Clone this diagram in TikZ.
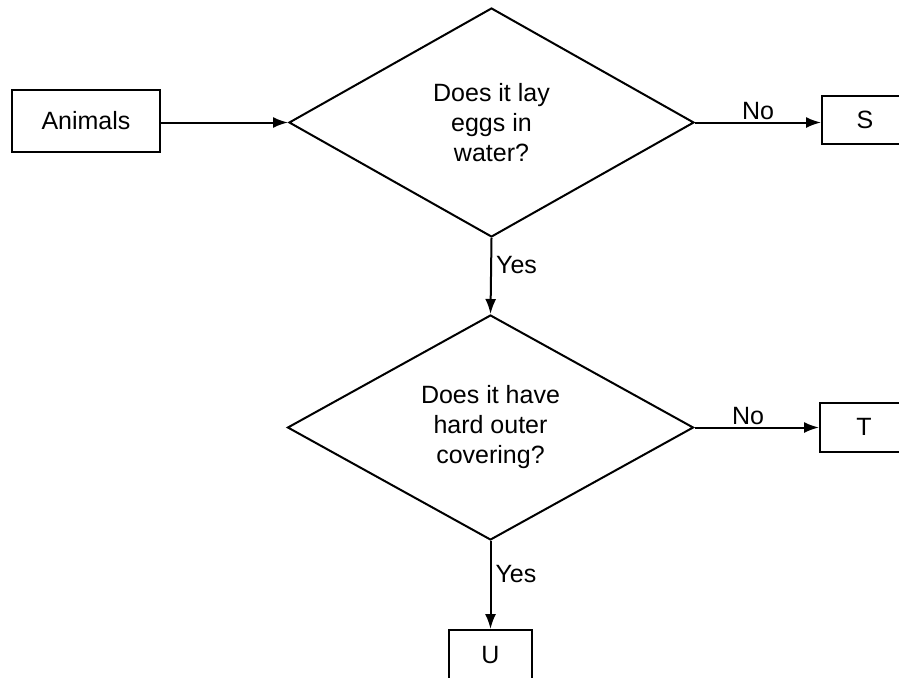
\documentclass[tikz,border=0pt]{standalone}
\usepackage{fontspec}
\setmainfont{Liberation Sans}
\usetikzlibrary{shapes.geometric,arrows.meta}
\begin{document}
\begin{tikzpicture}[x=1pt,y=-1pt,
  every node/.style={font=\fontsize{25}{30}\selectfont},
  box/.style={draw,line width=2pt,rectangle,inner sep=0pt},
  decision/.style={draw,line width=2pt,diamond,inner sep=0pt,align=center},
  conn/.style={line width=2pt,-{Latex[length=15pt,width=11pt]}},
  lbl/.style={inner sep=2pt}]
\useasboundingbox (0,0) rectangle (899,677);
\clip (0,0) rectangle (899,677);
\node[box,minimum width=148pt,minimum height=62pt] (a) at (86,121) {Animals};
\node[decision,minimum width=405pt,minimum height=229pt] (d1) at (491.5,122.5) {Does it lay\\eggs in\\water?};
\node[box,minimum width=86pt,minimum height=48pt] (s) at (865,120) {S};
\node[decision,minimum width=406pt,minimum height=225pt] (d2) at (490.5,427.5) {Does it have\\hard outer\\covering?};
\node[box,minimum width=88pt,minimum height=49pt] (t) at (864,427) {T};
\node[box,minimum width=83pt,minimum height=50pt] (u) at (490.5,655) {U};
\draw[conn] (a.east |- d1.west) -- (d1.west);
\draw[conn] (d1.east) -- node[lbl,above,pos=0.5] (no1) {No} (d1.east -| s.west);
\draw[conn] (d1.south) -- node[lbl,right,pos=0.35,xshift=2pt] (yes1) {Yes} (d2.north);
\draw[conn] (d2.east) -- node[lbl,above,pos=0.43] (no2) {No} (d2.east -| t.west);
\draw[conn] (d2.south) -- node[lbl,right,pos=0.38,xshift=2pt] (yes2) {Yes} (u.north);
\end{tikzpicture}
\end{document}
